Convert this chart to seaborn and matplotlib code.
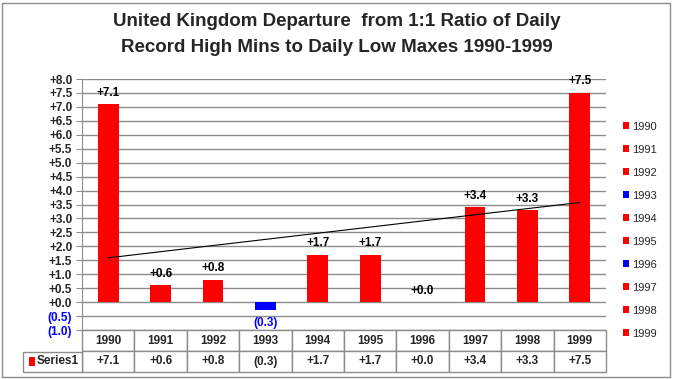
import numpy as np
import pandas as pd
import matplotlib
matplotlib.use('Agg')
import matplotlib.pyplot as plt
from matplotlib.patches import Patch, Rectangle
import seaborn as sns

years = ['1990', '1991', '1992', '1993', '1994', '1995', '1996', '1997', '1998', '1999']
values = [7.1, 0.6, 0.8, -0.3, 1.7, 1.7, 0.0, 3.4, 3.3, 7.5]
legend_colors = ['red', 'red', 'red', 'blue', 'red', 'red', 'blue', 'red', 'red', 'red']
y_ticks = np.arange(-1.0, 8.01, 0.5)

sns.set_style('white')
plt.rcParams['font.family'] = ['Liberation Sans', 'DejaVu Sans']


def fmt(v):
    # Excel style: +x.x for positive, (x.x) for negative
    return f'({abs(v):.1f})' if v < 0 else f'+{v:.1f}'


df = pd.DataFrame({'Year': years, 'Value': values})
df['Sign'] = np.where(df['Value'] < 0, 'neg', 'pos')

fig = plt.figure(figsize=(6.73, 3.79), dpi=100)
ax = fig.add_axes([82 / 673, 49 / 379, 524 / 673, 251 / 379])

sns.barplot(data=df, x='Year', y='Value', hue='Sign',
            palette={'pos': '#ff0000', 'neg': '#0000ff'}, saturation=1,
            width=0.4, dodge=False, legend=False, linewidth=0, ax=ax, zorder=3)

# linear trend line
xs = np.arange(len(values))
k, b = np.polyfit(xs, values, 1)
ax.plot([xs[0], xs[-1]], [k * xs[0] + b, k * xs[-1] + b], color='black', linewidth=0.8, zorder=4)

# data labels
for i, v in enumerate(values):
    if v < 0:
        ax.text(i, v - 0.25, fmt(v), ha='center', va='top', fontsize=8.5,
                fontweight='bold', color='#0000ff')
    else:
        ax.text(i, v + 0.2, fmt(v), ha='center', va='bottom', fontsize=8.5,
                fontweight='bold', color='black')

ax.set_xlim(-0.5, 9.5)
ax.set_ylim(-1.0, 8.0)
ax.set_yticks(y_ticks)
ax.set_yticklabels([fmt(t) for t in y_ticks], fontsize=8.5, fontweight='bold')
for lab, t in zip(ax.get_yticklabels(), y_ticks):
    if t < 0:
        lab.set_color('#0000ff')
ax.set_xticks([])
ax.set_xlabel('')
ax.set_ylabel('')
ax.yaxis.grid(True, color='#8c8c8c', linewidth=1)
ax.set_axisbelow(True)
ax.tick_params(axis='y', left=True, length=4, color='#8c8c8c', pad=3)
for s in ['top', 'right', 'bottom']:
    ax.spines[s].set_visible(False)
ax.spines['left'].set_color('#8c8c8c')

# data table under the plot
tbl = ax.table(cellText=[years, [fmt(v) for v in values]], cellLoc='center',
               bbox=[0, -42 / 251, 1, 42 / 251])
tbl.auto_set_font_size(False)
for (r, c), cell in tbl.get_celld().items():
    cell.set_edgecolor('#8c8c8c')
    cell.set_fontsize(8.5)
    cell.get_text().set_fontweight('bold')

lab_tbl = ax.table(cellText=[['']], bbox=[-59 / 524, -42 / 251, 59 / 524, 20 / 251])
lab_tbl[0, 0].set_edgecolor('#8c8c8c')
ax.add_patch(Rectangle((-53 / 524, -36 / 251), 6 / 524, 9 / 251, transform=ax.transAxes,
                       facecolor='red', edgecolor='none', clip_on=False))
ax.text(-45 / 524, -31.5 / 251, 'Series1', transform=ax.transAxes, fontsize=8.5,
        fontweight='bold', va='center', ha='left')

# year legend on the right
handles = [Patch(facecolor=c, edgecolor='none', label=y) for y, c in zip(years, legend_colors)]
fig.legend(handles=handles, loc='upper left', bbox_to_anchor=(617 / 673, 1 - 116 / 379),
           frameon=False, fontsize=8, handlelength=0.6, handleheight=0.6,
           handletextpad=0.3, labelspacing=1.17, borderpad=0)

fig.text(0.5, 1 - 22 / 379, 'United Kingdom Departure  from 1:1 Ratio of Daily',
         ha='center', va='center', fontsize=13.5, fontweight='bold')
fig.text(0.5, 1 - 47 / 379, 'Record High Mins to Daily Low Maxes 1990-1999',
         ha='center', va='center', fontsize=13.5, fontweight='bold')

fig.patches.append(Rectangle((2 / 673, 2 / 379), 668 / 673, 374 / 379, transform=fig.transFigure,
                             facecolor='none', edgecolor='#8c8c8c', linewidth=1))

fig.savefig('out.png', dpi=100)
